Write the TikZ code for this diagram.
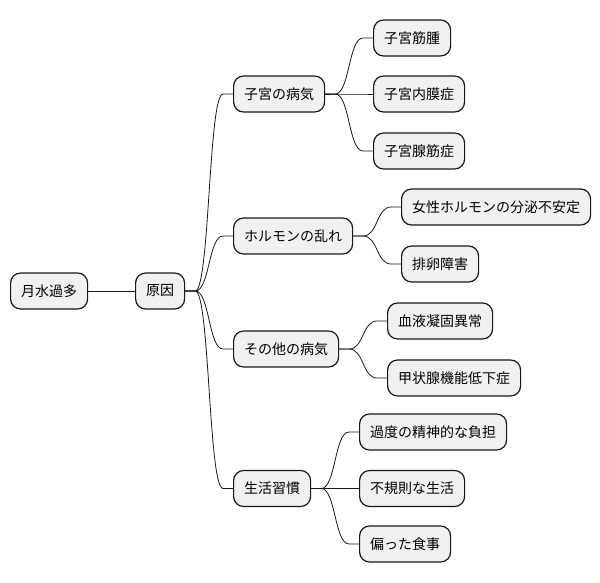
\documentclass[tikz,border=0pt]{standalone}
\usepackage{fontspec}
\setmainfont{Noto Sans CJK JP}
\definecolor{nodefill}{HTML}{F1F1F1}
\definecolor{nodeline}{HTML}{181818}
\begin{document}
\begin{tikzpicture}[x=1pt,y=-1pt,
  mmnode/.style={draw=nodeline, fill=nodefill, line width=1.2pt, rounded corners=10pt,
    minimum height=36pt, inner xsep=10.5pt, inner ysep=0pt, anchor=west,
    font=\fontsize{14}{16}\selectfont},
  link/.style={draw=nodeline, line width=0.8pt}]
\useasboundingbox (0,0) rectangle (600,583);

% nodes
\node[mmnode] (root) at (10,291) {月水過多};
\node[mmnode] (cause) at (135,291) {原因};

\node[mmnode] (uterus) at (233,94) {子宮の病気};
\node[mmnode] (hormone) at (233,236) {ホルモンの乱れ};
\node[mmnode] (other) at (233,349) {その他の病気};
\node[mmnode] (life) at (233,488.5) {生活習慣};

\node[mmnode] (u1) at (373,38) {子宮筋腫};
\node[mmnode] (u2) at (373,94) {子宮内膜症};
\node[mmnode] (u3) at (373,151) {子宮腺筋症};

\node[mmnode] (h1) at (401,207) {女性ホルモンの分泌不安定};
\node[mmnode] (h2) at (401,264) {排卵障害};

\node[mmnode] (o1) at (387,321) {血液凝固異常};
\node[mmnode] (o2) at (387,378) {甲状腺機能低下症};

\node[mmnode] (l1) at (359,432) {過度の精神的な負担};
\node[mmnode] (l2) at (359,488.5) {不規則な生活};
\node[mmnode] (l3) at (359,544) {偏った食事};

% connectors
\draw[link] (root.east) -- (cause.west);
\foreach \p/\c in {cause/uterus,cause/hormone,cause/other,cause/life,
                   uterus/u1,uterus/u2,uterus/u3,
                   hormone/h1,hormone/h2,
                   other/o1,other/o2,
                   life/l1,life/l2,life/l3}{
  \draw[link] (\p.east) -- ++(10,0) .. controls +(14.5,0) and +(-14.5,0) .. ([xshift=-10pt]\c.west) -- (\c.west);
}
\end{tikzpicture}
\end{document}
